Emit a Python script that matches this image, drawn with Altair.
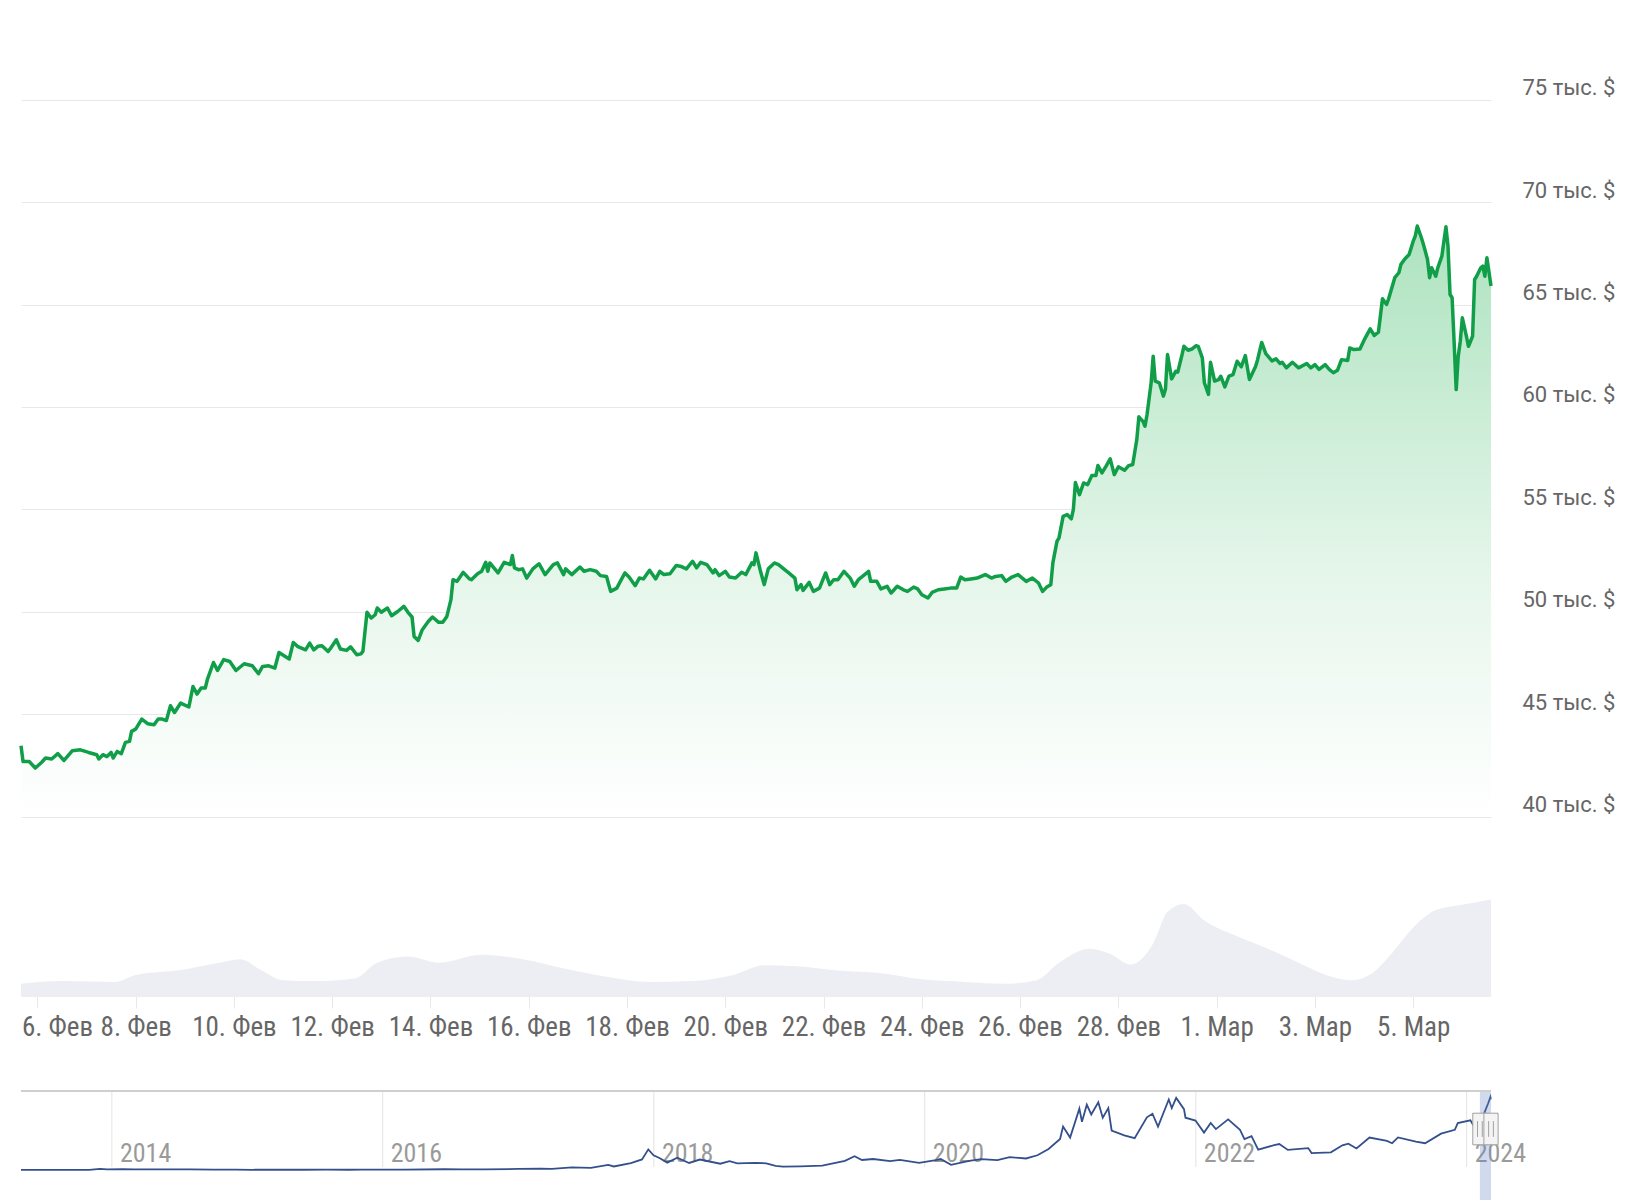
import altair as alt
import pandas as pd

START = pd.Timestamp("2024-02-05 00:00")

# ---- main price series (hours since 2024-02-05 00:00, price in USD) ----
price_hours = [
    16, 17, 20, 23, 26, 28, 31, 34, 37, 41, 45, 49, 53, 54, 56, 58, 60, 61, 63, 65,
    67, 69, 70, 72, 75, 78, 81, 83, 85, 87, 89, 91, 94, 98, 100, 102, 104, 106, 107, 110,
    112, 115, 118, 121, 125, 129, 132, 134, 137,
    140, 142, 147, 149, 151, 155, 157, 159, 161, 163, 166, 167, 170, 172, 175, 177, 180, 182, 183, 185,
    187, 189, 190, 192, 195, 197, 200, 203, 205, 207, 208, 210, 212, 215, 217, 220, 222, 224, 226, 227,
    229, 232, 235, 236, 239, 241, 243, 244, 245, 249, 252, 255, 256, 257,
    259, 261, 263, 266, 269, 272, 276, 278, 281, 282, 285, 289, 291, 294, 297, 299, 302, 304, 307, 309,
    311, 313, 316, 318, 320, 323, 326, 328, 330, 333, 336, 338, 341, 344, 346, 348, 351, 354, 355, 357,
    360, 362, 365, 368, 370, 373, 374, 375, 377, 379, 381, 384,
    386, 389, 391, 394, 395, 397, 398, 401, 403, 406, 409, 411, 413, 415, 418, 421, 423, 425, 427, 430,
    431, 434, 436, 439, 441, 444, 447, 449, 452, 454, 456, 459, 461, 464, 467, 470, 473, 475, 477, 480,
    483, 487, 490, 492, 495, 497, 500, 503,
    507, 510, 513, 515, 517, 519, 520, 522, 523, 525, 527, 529, 530, 531, 533, 535, 537, 539, 541, 542,
    544, 546, 548, 550, 552, 555, 557, 559, 561, 562, 564, 565, 566, 568, 569, 570, 572, 574, 575, 576,
    578, 580, 581, 583, 584, 586, 588, 590, 591, 593, 594, 596, 597, 599, 601, 602, 604, 606, 608, 610,
    612, 614, 616, 619, 620, 622, 624,
    627, 629, 631, 632, 634, 637, 640, 644, 646, 648, 650, 653, 655, 657, 659, 661, 664, 665, 667, 670,
    672, 675, 677, 679, 681, 683, 684, 687, 689, 690, 692, 694, 696, 697, 698, 700, 701, 703, 704, 705,
    707, 708, 710, 711, 712, 713, 714, 715, 716, 717, 718, 719, 720, 722, 723, 725, 726, 727, 729, 730,
    731, 732, 734,
]
price_values = [
    43470, 42700, 42700, 42380, 42650, 42870, 42820, 43080, 42750, 43220, 43270, 43140, 43030, 42820, 43030, 42940, 43140, 42870, 43190, 43080,
    43630, 43680, 44170, 44280, 44770, 44540, 44490, 44770, 44770, 44700, 45420, 45090, 45550, 45360, 46360, 45990, 46280, 46280, 46690, 47530,
    47140, 47670, 47580, 47140, 47470, 47370, 46980, 47340, 47370,
    47260, 48020, 47700, 48510, 48320, 48150, 48480, 48150, 48320, 48350, 48070, 48190, 48640, 48190, 48120, 48290, 47910, 47950, 48070, 49980,
    49700, 49860, 50190, 49980, 50190, 49810, 50020, 50270, 49980, 49750, 48800, 48610, 49130, 49540, 49750, 49490, 49490, 49780, 50600, 51570,
    51490, 51930, 51610, 51570, 51860, 51980, 52420, 51980, 52390, 51900, 52420, 52310, 52750, 52150,
    52060, 52100, 51650, 52100, 52350, 51820, 52310, 52390, 51820, 52100, 51820, 52190, 51980, 52060, 51980, 51770, 51730, 51000, 51160, 51540,
    51900, 51700, 51280, 51650, 51610, 52030, 51610, 51980, 51820, 51860, 52260, 52230, 52100, 52470, 52150, 52420, 52310, 51900, 52060, 51770,
    51980, 51700, 51650, 51930, 51820, 52390, 52310, 52880, 52060, 51330, 52100, 52390,
    52310, 52060, 51900, 51650, 51080, 51330, 51050, 51440, 51000, 51160, 51900, 51330, 51570, 51570, 51980, 51650, 51250, 51570, 51730, 51980,
    51490, 51490, 51120, 51250, 50920, 51250, 51080, 51000, 51210, 51120, 50840, 50680, 50950, 51080, 51120, 51160, 51160, 51700, 51570, 51610,
    51650, 51820, 51650, 51730, 51770, 51490, 51700, 51820,
    51490, 51650, 51410, 51000, 51210, 51330, 52390, 53440, 53610, 54660, 54750, 54540, 54990, 56310, 55720, 56290, 56210, 56650, 56650, 57140,
    56780, 57110, 57470, 56700, 57080, 56910, 57140, 57190, 58410, 59520, 59300, 59060, 59630, 61180, 62480, 61260, 61180, 60530, 60880, 62560,
    61370, 61740, 61700, 62510, 62960, 62770, 62830, 62990, 62960, 62400, 61180, 60610, 62180, 61260, 61340, 61500, 60980, 61500, 61580, 62230,
    61960, 62510, 61340, 61980, 62310, 63150, 62600,
    62250, 62350, 62120, 62180, 61910, 62180, 61910, 62120, 61910, 62070, 61830, 62070, 61830, 61670, 61790, 62310, 62270, 62880, 62800, 62830,
    63260, 63810, 63490, 63650, 65280, 65000, 65280, 66310, 66550, 66960, 67230, 67440, 68090, 68340, 68830, 68260, 67930, 67200, 66310, 66790,
    66380, 66790, 67360, 68090, 68790, 67850, 65490, 65330, 63130, 60850, 62480, 63210, 64350, 63450, 62960, 63450, 66220, 66380, 66790, 66870,
    66380, 67280, 65900,
]

# ---- 24h trading volume (billions USD) ----
vol_hours = [16, 36, 62, 72, 92, 113, 123, 133, 144, 159, 179, 190, 205, 220, 241, 261, 282, 302, 323, 343,
             364, 379, 395, 415, 436, 456, 477, 497, 512, 523, 538, 548, 558, 569, 576, 584, 594, 610, 625, 640,
             656, 666, 676, 686, 696, 707, 717, 727, 734]
vol_values = [14, 17, 16, 24, 29, 38, 42, 30, 18, 17, 20, 38, 45, 38, 47, 42, 31, 22, 16, 17,
              24, 35, 34, 29, 26, 19, 16, 14, 18, 38, 54, 48, 36, 60, 96, 105, 86, 68, 54, 38,
              22, 18, 26, 50, 78, 98, 103, 107, 110]

# ---- navigator: long-term price history ----
nav_dates = [
    "2013-05-01", "2013-07-01", "2013-09-01", "2013-11-01", "2013-11-30", "2013-12-20", "2014-01-31", "2014-03-01",
    "2014-04-15", "2014-06-01", "2014-08-01", "2014-10-01", "2014-12-01", "2015-01-15", "2015-03-01", "2015-06-01",
    "2015-08-01", "2015-10-01", "2015-11-05", "2015-12-31", "2016-03-01", "2016-06-15", "2016-08-01", "2016-10-01",
    "2016-12-31", "2017-03-01", "2017-04-01", "2017-05-25", "2017-07-15", "2017-08-31", "2017-09-15", "2017-10-31",
    "2017-11-30", "2017-12-17", "2017-12-31", "2018-01-16", "2018-02-06", "2018-03-05", "2018-04-06", "2018-05-05",
    "2018-06-29", "2018-07-24", "2018-08-14", "2018-09-30", "2018-10-31", "2018-11-25", "2018-12-15", "2019-01-31",
    "2019-03-31", "2019-05-31", "2019-06-26", "2019-07-16", "2019-08-15", "2019-09-30", "2019-10-26", "2019-12-17",
    "2020-01-31", "2020-02-13", "2020-03-12", "2020-04-30", "2020-06-01", "2020-07-15", "2020-08-17", "2020-09-30",
    "2020-10-31", "2020-11-30", "2020-12-31", "2021-01-08", "2021-01-27", "2021-02-21", "2021-02-28", "2021-03-13",
    "2021-03-25", "2021-04-13", "2021-04-25", "2021-05-10", "2021-05-19", "2021-06-22", "2021-07-20", "2021-08-22",
    "2021-09-06", "2021-09-21", "2021-10-20", "2021-10-28", "2021-11-09", "2021-11-30", "2021-12-04", "2021-12-31",
    "2022-01-23", "2022-02-10", "2022-02-24", "2022-03-29", "2022-04-30", "2022-05-12", "2022-05-31", "2022-06-18",
    "2022-07-31", "2022-08-14", "2022-09-06", "2022-10-31", "2022-11-09", "2022-12-31", "2023-01-31", "2023-02-16",
    "2023-03-10", "2023-04-14", "2023-05-31", "2023-06-14", "2023-06-30", "2023-08-17", "2023-09-11", "2023-10-24",
    "2023-11-30", "2023-12-08", "2024-01-11", "2024-01-23", "2024-02-08", "2024-02-16", "2024-02-28", "2024-03-05",
    "2024-03-06",
]
nav_values = [
    116, 88, 135, 205, 1130, 650, 800, 560,
    500, 630, 590, 380, 380, 210, 255, 225,
    280, 240, 400, 430, 435, 700, 620, 615,
    960, 1200, 1080, 2400, 1900, 4700, 3300, 6400,
    9900, 19300, 13800, 11200, 6900, 11500, 6600, 9800,
    5900, 8200, 6200, 6600, 6300, 3900, 3200, 3450,
    4100, 8500, 12900, 9400, 10300, 8300, 9550, 6600,
    9350, 10300, 4900, 8650, 10200, 9200, 12000, 10800,
    13800, 19700, 29000, 40700, 30400, 57500, 45200, 61200,
    52000, 63500, 49000, 58000, 37000, 32500, 29800, 49300,
    52700, 40700, 66000, 58000, 67500, 57000, 49000, 46300,
    35000, 44000, 38300, 47400, 37700, 29000, 31800, 19000,
    23300, 24300, 18800, 20500, 15900, 16500, 23100, 24600,
    20200, 30400, 27200, 25100, 30500, 26600, 25100, 34000,
    37700, 44000, 46600, 39500, 45300, 52100, 62500, 68300,
    66200,
]
nav_years = [2014, 2016, 2018, 2020, 2022, 2024]

x_tick_dates = ["2024-02-06", "2024-02-08", "2024-02-10", "2024-02-12", "2024-02-14", "2024-02-16",
                "2024-02-18", "2024-02-20", "2024-02-22", "2024-02-24", "2024-02-26", "2024-02-28",
                "2024-03-01", "2024-03-03", "2024-03-05"]
y_ticks = [40000, 45000, 50000, 55000, 60000, 65000, 70000, 75000]

assert len(price_hours) == len(price_values)
assert len(vol_hours) == len(vol_values)
assert len(nav_dates) == len(nav_values)

# ---- tables ----
price_df = pd.DataFrame({"time": START + pd.to_timedelta(price_hours, unit="h"), "price": price_values})
vol_df = pd.DataFrame({"time": START + pd.to_timedelta(vol_hours, unit="h"), "volume": vol_values})
nav_df = pd.DataFrame({"date": pd.to_datetime(nav_dates), "price": nav_values})
year_df = pd.DataFrame({"date": pd.to_datetime([f"{y}-01-01" for y in nav_years]),
                        "label": [str(y) for y in nav_years]})
sel_df = pd.DataFrame({"start": [price_df["time"].min()], "end": [price_df["time"].max()]})
handle_df = pd.DataFrame({"date": [price_df["time"].min(), price_df["time"].max()]})
one_df = pd.DataFrame({"k": [0]})


def dt(ts):
    ts = pd.Timestamp(ts)
    return alt.DateTime(year=ts.year, month=ts.month, date=ts.day, hours=ts.hour, minutes=ts.minute)


W = 1470
TOP = 30
main_dom = [dt(price_df["time"].min()), dt(price_df["time"].max())]
nav_dom = [dt("2013-05-01"), dt(price_df["time"].max())]

x_main = alt.Scale(domain=main_dom, nice=False)
x_nav = alt.Scale(domain=nav_dom, nice=False)
y_price = alt.Scale(domain=[40000, 75000], range=[816.8 - TOP, 99.6 - TOP], nice=False, zero=False)
y_vol = alt.Scale(domain=[0, 200], range=[996 - TOP, 996 - TOP - 175.4], nice=False)
y_nav = alt.Scale(domain=[0, 74000], range=[1170 - TOP, 1091 - TOP], nice=False)

NARROW = "'Liberation Sans Narrow', 'Roboto Condensed', Roboto, sans-serif"

gradient = alt.Gradient(
    gradient="linear",
    stops=[alt.GradientStop(color="#ade3bf", offset=0),
           alt.GradientStop(color="#e6f6eb", offset=0.6),
           alt.GradientStop(color="#ffffff", offset=1)],
    x1=1, x2=1, y1=0, y2=1,
)

vol_area = alt.Chart(vol_df).mark_area(color="#eceef3", interpolate="monotone").encode(
    x=alt.X("time:T", scale=x_main, axis=None),
    y=alt.Y("volume:Q", scale=y_vol, axis=None),
)

price_area = alt.Chart(price_df).mark_area(color=gradient, line=False).encode(
    x=alt.X("time:T", scale=x_main, axis=None),
    y=alt.Y("price:Q", scale=y_price, axis=None),
    y2=alt.datum(40000),
)

month_expr = ("['Янв','Фев','Мар','Апр','Май','Июн','Июл','Авг','Сен','Окт','Ноя','Дек'][month(datum.value)]")

price_line = alt.Chart(price_df).mark_line(color="#109f48", strokeWidth=3.5, strokeJoin="round").encode(
    x=alt.X("time:T", scale=x_main, title=None,
            axis=alt.Axis(values=[dt(d) for d in x_tick_dates],
                          labelExpr="date(datum.value) + '. ' + " + month_expr,
                          grid=False, ticks=True, tickSize=12, tickColor="#e8e8e8",
                          domain=True, domainColor="#eeeeee",
                          labelFont=NARROW, labelFontSize=27, labelColor="#666666",
                          labelPadding=6, labelOverlap=False,
                          labelFlush=20, labelFlushOffset=16)),
    y=alt.Y("price:Q", scale=y_price, title=None,
            axis=alt.Axis(orient="right", values=y_ticks,
                          labelExpr="format(datum.value / 1000, 'd') + ' тыс. $'",
                          grid=True, gridColor="#e8e8e8", gridWidth=1,
                          ticks=False, domain=False,
                          labelFont="Roboto", labelFontSize=22, labelColor="#666666",
                          labelAlign="left", labelBaseline="bottom", labelPadding=31)),
)

nav_border = alt.Chart(one_df).mark_rule(color="#cfcfcf", strokeWidth=2).encode(
    x=alt.value(0), x2=alt.value(W), y=alt.value(1091 - TOP),
)

nav_grid = alt.Chart(year_df).mark_rule(color="#e3e3e3", strokeWidth=1).encode(
    x=alt.X("date:T", scale=x_nav, axis=None),
    y=alt.value(1092 - TOP), y2=alt.value(1167 - TOP),
)

nav_labels = alt.Chart(year_df).mark_text(align="left", baseline="middle", dx=8,
                                          font=NARROW, fontSize=26, color="#9a9a9a").encode(
    x=alt.X("date:T", scale=x_nav, axis=None),
    y=alt.value(1154 - TOP),
    text="label:N",
)

nav_line = alt.Chart(nav_df).mark_line(color="#34508c", strokeWidth=1.8).encode(
    x=alt.X("date:T", scale=x_nav, axis=None),
    y=alt.Y("price:Q", scale=y_nav, axis=None),
)

nav_sel = alt.Chart(sel_df).mark_rect(color="#6685c2", opacity=0.3).encode(
    x=alt.X("start:T", scale=x_nav, axis=None),
    x2="end:T",
    y=alt.value(1092 - TOP), y2=alt.value(1200 - TOP),
)

handle_shape = ("M-0.45,-1L0.45,-1L0.45,1L-0.45,1Z"
                "M-0.15,-0.5L-0.15,0.5M0.15,-0.5L0.15,0.5")
nav_handle = alt.Chart(handle_df).mark_point(shape=handle_shape, size=1000, filled=False,
                                             fill="#f4f4f4", fillOpacity=1, stroke="#a0a0a0",
                                             strokeWidth=1, opacity=1).encode(
    x=alt.X("date:T", scale=x_nav, axis=None),
    y=alt.value(1129 - TOP),
)

chart = alt.layer(
    vol_area, price_area, price_line,
    nav_border, nav_grid, nav_labels, nav_line, nav_sel, nav_handle,
).resolve_scale(
    x="independent", y="independent"
).properties(
    width=W, height=996 - TOP,
    padding={"left": 17, "top": TOP, "right": 5, "bottom": 0},
    background="#ffffff",
).configure_view(stroke=None)

chart.save("out.html", embed_options={"renderer": "svg", "actions": False})
